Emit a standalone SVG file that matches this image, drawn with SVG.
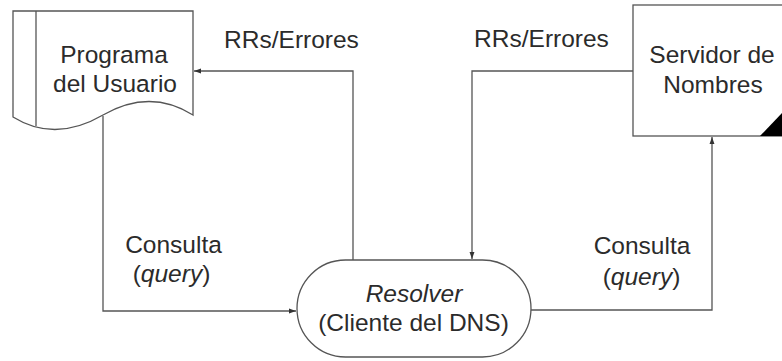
<svg xmlns="http://www.w3.org/2000/svg" width="782" height="361" viewBox="0 0 782 361">
<defs>
<style>
.shape{fill:#fff;stroke:#555;stroke-width:1.3}
.conn{fill:none;stroke:#555;stroke-width:1.3}
text{font-family:"Liberation Sans",Arial,sans-serif;font-size:24.5px;fill:#2b2b2b;text-anchor:middle}
.it{font-style:italic}
</style>
<marker id="arr" viewBox="0 0 10 10" refX="10" refY="5" markerWidth="7" markerHeight="7" markerUnits="userSpaceOnUse" orient="auto">
<path d="M0,1.5 L10,5 L0,8.5 Z" fill="#333"/>
</marker>
</defs>
<rect width="782" height="361" fill="#fff"/>
<g id="connectors">
<path class="conn" d="M103,116 V311 H296" marker-end="url(#arr)"/>
<path class="conn" d="M353,260 V71 H194" marker-end="url(#arr)"/>
<path class="conn" d="M633,71 H472 V259" marker-end="url(#arr)"/>
<path class="conn" d="M530,310 H712 V137" marker-end="url(#arr)"/>
</g>
<g id="programa">
<path class="shape" d="M13,11 H193 V115 Q150,88 103,115 Q55,143 13,117 Z"/>
<line class="shape" x1="36" y1="11" x2="36" y2="126"/>
<text x="114" y="63">Programa</text>
<text x="115" y="92">del Usuario</text>
</g>
<g id="servidor">
<rect class="shape" x="633" y="5" width="160" height="131"/>
<polygon points="760,136 782,113 782,136" fill="#000"/>
<text x="712" y="63">Servidor de</text>
<text x="713" y="93">Nombres</text>
</g>
<g id="resolver">
<rect class="shape" x="297" y="260" width="234" height="97" rx="48.5" ry="48.5"/>
<text class="it" x="414" y="302">Resolver</text>
<text x="413.5" y="331">(Cliente del DNS)</text>
</g>
<g id="labels">
<text x="291.5" y="48">RRs/Errores</text>
<text x="541.5" y="47">RRs/Errores</text>
<text x="173.5" y="253">Consulta</text>
<text x="171.5" y="282">(<tspan class="it">query</tspan>)</text>
<text x="642" y="254">Consulta</text>
<text x="641.5" y="285">(<tspan class="it">query</tspan>)</text>
</g>
</svg>
